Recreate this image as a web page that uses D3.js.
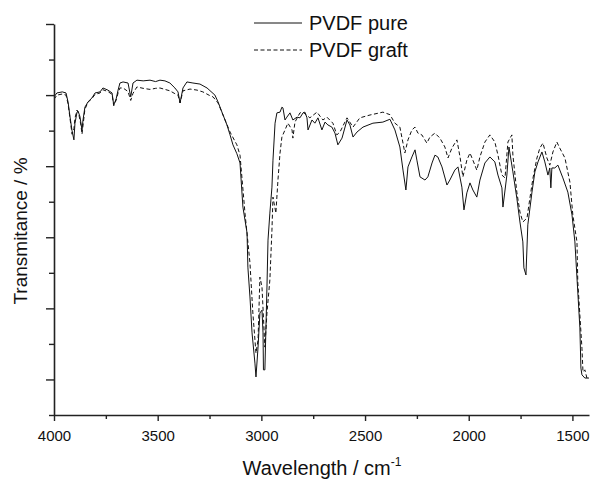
<!DOCTYPE html>
<html>
<head>
<meta charset="utf-8">
<script src="https://cdn.jsdelivr.net/npm/d3@7"></script>
<style>
  html, body { margin: 0; padding: 0; background: #fff; }
  svg { display: block; }
  text { font-family: "Liberation Sans", Arial, sans-serif; fill: #111; }
</style>
</head>
<body>
<svg id="chart" width="590" height="481"></svg>
<script>
// ---- data (wavenumber cm-1, transmittance %) ----
const pureData = [
  [4000,79.5],[3986,80.6],[3960,80.9],[3942,80.6],[3932,78.0],[3923,74.0],[3913,70.0],[3904,67.4],
  [3899,72.0],[3889,75.2],[3884,75.5],[3875,74.0],[3865,70.2],[3860,73.0],[3851,76.6],[3836,78.1],
  [3817,79.2],[3802,80.6],[3778,80.9],[3764,82.0],[3740,81.4],[3720,80.6],[3712,77.2],[3700,79.0],
  [3691,81.4],[3682,83.4],[3667,83.7],[3643,83.4],[3630,79.5],[3619,83.4],[3600,84.2],[3570,84.0],
  [3537,84.2],[3510,83.8],[3489,84.2],[3465,84.0],[3441,83.4],[3417,82.0],[3402,80.9],[3392,77.8],
  [3378,82.0],[3359,83.7],[3330,83.4],[3296,83.1],[3262,82.0],[3224,80.0],[3209,78.1],[3190,75.2],
  [3166,71.6],[3151,68.8],[3137,66.0],[3118,63.5],[3103,60.9],[3089,48.5],[3069,41.2],[3065,31.6],
  [3055,23.2],[3045,13.1],[3031,4.6],[3026,0.7],[3016,9.1],[3007,18.7],[2997,19.5],[2992,13.1],
  [2990,2.7],[2983,2.7],[2973,26.0],[2968,39.2],[2959,46.8],[2949,54.1],[2944,61.7],[2934,72.1],
  [2925,75.0],[2910,75.2],[2901,76.6],[2896,76.4],[2886,73.0],[2877,73.8],[2862,75.0],[2848,73.0],
  [2828,73.8],[2814,73.6],[2799,75.0],[2790,75.2],[2780,73.6],[2775,70.2],[2756,73.0],[2742,72.1],
  [2727,73.6],[2708,70.2],[2693,72.4],[2679,71.6],[2660,71.0],[2645,69.3],[2631,66.0],[2611,67.9],
  [2587,73.0],[2573,71.6],[2558,68.2],[2539,69.6],[2510,71.0],[2462,72.1],[2414,72.4],[2380,73.2],
  [2356,70.2],[2332,65.4],[2317,58.9],[2303,53.3],[2293,59.8],[2274,62.6],[2259,64.6],[2250,61.7],
  [2235,57.0],[2211,56.1],[2197,57.0],[2177,60.9],[2163,63.1],[2149,62.6],[2129,59.8],[2105,54.7],
  [2091,56.1],[2067,58.9],[2052,59.8],[2033,54.1],[2023,47.7],[2009,52.5],[1994,55.3],[1980,53.3],
  [1961,51.3],[1946,56.1],[1922,60.9],[1898,62.6],[1874,61.2],[1859,57.5],[1840,53.9],[1835,48.5],
  [1816,57.5],[1806,65.4],[1787,58.4],[1768,51.0],[1753,44.3],[1739,38.7],[1734,31.4],[1724,29.4],
  [1715,43.5],[1695,52.7],[1681,58.4],[1666,61.2],[1647,64.0],[1633,61.2],[1618,57.5],[1609,59.5],
  [1604,53.9],[1599,59.5],[1585,59.5],[1570,60.3],[1546,56.7],[1522,52.7],[1502,46.3],[1488,38.7],
  [1474,24.6],[1464,14.5],[1459,3.2],[1454,1.3],[1440,0.4],[1420,0.4]
];
const graftData = [
  [4000,78.8],[3986,80.0],[3960,80.3],[3942,80.0],[3932,77.5],[3923,73.5],[3913,69.0],[3904,70.5],
  [3899,73.5],[3889,75.8],[3880,74.5],[3870,71.5],[3865,69.0],[3858,72.5],[3851,76.0],[3836,78.0],
  [3817,79.0],[3802,80.2],[3778,80.6],[3764,81.5],[3740,81.0],[3720,80.2],[3712,77.0],[3700,78.6],
  [3691,80.6],[3682,82.0],[3667,82.0],[3643,81.0],[3630,78.5],[3619,80.5],[3600,82.3],[3570,81.9],
  [3537,81.6],[3510,81.9],[3489,82.0],[3465,81.6],[3441,81.2],[3417,80.4],[3402,80.0],[3392,77.8],
  [3378,81.2],[3344,81.7],[3310,81.4],[3282,80.9],[3250,79.9],[3233,79.5],[3209,77.8],[3185,74.4],
  [3151,69.6],[3118,66.0],[3103,63.1],[3079,46.8],[3055,32.8],[3041,18.7],[3026,7.4],[3016,11.1],
  [3007,28.8],[2997,26.0],[2983,9.1],[2973,18.7],[2959,28.0],[2949,42.0],[2944,51.3],[2930,46.8],
  [2920,56.1],[2910,63.7],[2901,68.2],[2886,70.2],[2872,72.1],[2852,70.2],[2848,67.9],[2838,72.4],
  [2814,75.0],[2799,75.2],[2766,73.6],[2732,75.2],[2703,73.0],[2684,73.8],[2655,72.1],[2636,68.8],
  [2621,69.6],[2587,73.6],[2558,71.0],[2525,73.6],[2476,74.4],[2414,75.2],[2380,74.5],[2356,72.1],
  [2332,71.0],[2317,66.5],[2308,63.7],[2293,67.4],[2274,70.2],[2259,71.0],[2245,69.3],[2226,68.8],
  [2202,66.5],[2187,68.2],[2163,69.3],[2139,67.9],[2115,65.4],[2100,62.3],[2081,65.1],[2057,67.4],
  [2042,62.6],[2028,57.0],[2009,61.7],[1994,63.7],[1980,61.7],[1961,58.9],[1946,62.6],[1922,66.8],
  [1898,68.8],[1874,66.8],[1859,63.1],[1840,57.5],[1825,56.7],[1811,66.8],[1792,68.8],[1787,63.1],
  [1768,52.7],[1753,47.1],[1739,44.3],[1719,45.4],[1705,51.0],[1690,56.7],[1671,62.3],[1657,65.1],
  [1642,66.5],[1623,62.3],[1609,60.3],[1594,64.0],[1575,66.8],[1561,65.1],[1536,62.3],[1512,55.5],
  [1498,46.3],[1478,38.7],[1474,27.4],[1464,18.1],[1454,8.8],[1449,2.1],[1440,2.7],[1430,0.4],[1420,0.4]
];
const xMajorTicks = [4000, 3500, 3000, 2500, 2000, 1500];
const xMinorTicks = [3750, 3250, 2750, 2250, 1750];
const yMajorTicks = [100, 80, 60, 40, 20, 0];
const yMinorTicks = [90, 70, 50, 30, 10, -10];
const seriesNames = ["PVDF pure", "PVDF graft"];

// ---- layout ----
const svg = d3.select("#chart");
const mLeft = 54, mRight = 589, mTop = 24, mBottom = 415;
const x = d3.scaleLinear().domain([4000, 1420]).range([mLeft, mRight]);
const y = d3.scaleLinear().domain([-10, 100]).range([mBottom, mTop]);

svg.append("defs").append("clipPath").attr("id", "clip")
  .append("rect").attr("x", mLeft).attr("y", mTop - 2).attr("width", mRight - mLeft + 2).attr("height", mBottom - mTop + 2);

const line = d3.line().x(d => x(d[0])).y(d => y(d[1]));

const plot = svg.append("g").attr("clip-path", "url(#clip)");
plot.append("path").datum(graftData)
  .attr("fill", "none").attr("stroke", "#111").attr("stroke-width", 1)
  .attr("stroke-dasharray", "4,2.5").attr("d", line);
plot.append("path").datum(pureData)
  .attr("fill", "none").attr("stroke", "#111").attr("stroke-width", 1).attr("d", line);

// axes
const axisColor = "#222";
const gx = svg.append("g").attr("transform", `translate(0,${mBottom})`);
gx.call(d3.axisBottom(x).tickValues(xMajorTicks).tickSize(6).tickSizeOuter(0).tickFormat(d3.format("d")));
const gxm = svg.append("g").attr("transform", `translate(0,${mBottom})`);
gxm.call(d3.axisBottom(x).tickValues(xMinorTicks).tickSize(4).tickSizeOuter(0).tickFormat(""));
gxm.select(".domain").remove();

const gy = svg.append("g").attr("transform", `translate(${mLeft},0)`);
gy.call(d3.axisLeft(y).tickValues(yMajorTicks).tickSize(8).tickSizeOuter(0).tickFormat(""));
const gym = svg.append("g").attr("transform", `translate(${mLeft},0)`);
gym.call(d3.axisLeft(y).tickValues(yMinorTicks).tickSize(5).tickSizeOuter(0).tickFormat(""));
gym.select(".domain").remove();

[gx, gxm, gy, gym].forEach(g => {
  g.selectAll(".domain").attr("stroke", axisColor).attr("stroke-width", 1.6);
  g.selectAll(".tick line").attr("stroke", axisColor).attr("stroke-width", 1.4);
});
gx.selectAll(".tick text")
  .attr("font-size", 15).attr("dy", null).attr("y", 26)
  .style("font-family", "'Liberation Sans', Arial, sans-serif").attr("fill", "#111");

// axis titles
const xt = svg.append("text").attr("x", (mLeft + 590) / 2).attr("y", 475)
  .attr("text-anchor", "middle").attr("font-size", 20);
xt.append("tspan").text("Wavelength / cm");
xt.append("tspan").attr("font-size", 12).attr("dy", -9).text("-1");

svg.append("text").attr("transform", "translate(27,231) rotate(-90)")
  .attr("text-anchor", "middle").attr("font-size", 19).text("Transmitance / %");

// legend
const legend = svg.append("g");
const legendRows = [{name: seriesNames[0], dash: null, yy: 23}, {name: seriesNames[1], dash: "4,2.5", yy: 50}];
legendRows.forEach(r => {
  legend.append("line").attr("x1", 254).attr("x2", 302).attr("y1", r.yy).attr("y2", r.yy)
    .attr("stroke", "#111").attr("stroke-width", 1).attr("stroke-dasharray", r.dash);
  legend.append("text").attr("x", 309).attr("y", r.yy + 7).attr("font-size", 20).text(r.name);
});
</script>
</body>
</html>
